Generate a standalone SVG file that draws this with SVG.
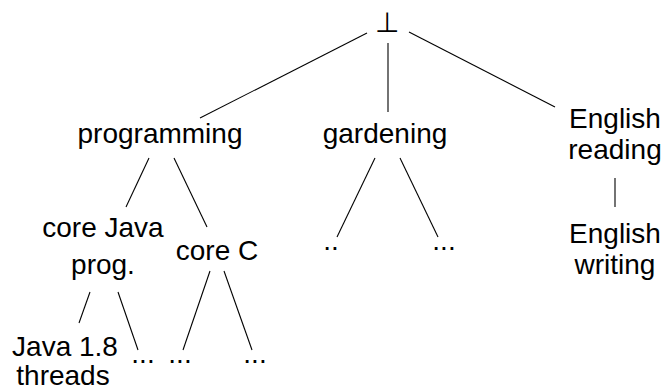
<svg xmlns="http://www.w3.org/2000/svg" width="664" height="392" viewBox="0 0 664 392">
<style>
text{font-family:"Liberation Sans",Arial,sans-serif;font-size:28px;fill:#000;text-anchor:middle}
.bot{font-family:"DejaVu Sans",sans-serif;font-weight:200;font-size:28px}
.e line{stroke:#000;stroke-width:1.1}
</style>
<rect width="664" height="392" fill="#fff"/>
<g class="e" id="connectors">
<line x1="367" y1="33" x2="200" y2="118"/>
<line x1="388" y1="43" x2="388" y2="112"/>
<line x1="409" y1="32" x2="555" y2="107"/>
<line x1="149" y1="158" x2="126" y2="207"/>
<line x1="174" y1="158" x2="207" y2="227"/>
<line x1="375" y1="158" x2="337" y2="237"/>
<line x1="400" y1="158" x2="438" y2="237"/>
<line x1="615" y1="178" x2="615" y2="207"/>
<line x1="90" y1="292" x2="79" y2="323"/>
<line x1="118" y1="292" x2="138" y2="350"/>
<line x1="210" y1="271" x2="183" y2="350"/>
<line x1="224" y1="271" x2="252" y2="350"/>
</g>
<g id="root"><text class="bot" x="387" y="32">⊥</text></g>
<g id="programming"><text x="160" y="143">programming</text></g>
<g id="gardening"><text x="385" y="143">gardening</text></g>
<g id="english-reading"><text x="615" y="128">English</text><text x="615" y="159">reading</text></g>
<g id="core-java"><text x="103" y="237">core Java</text><text x="103" y="274">prog.</text></g>
<g id="core-c"><text x="217" y="260">core C</text></g>
<g id="g-dots1"><text x="331" y="250">..</text></g>
<g id="g-dots2"><text x="444" y="250">...</text></g>
<g id="english-writing"><text x="615" y="243">English</text><text x="615" y="274">writing</text></g>
<g id="java18"><text x="65" y="356">Java 1.8</text><text x="63" y="385">threads</text></g>
<g id="j-dots"><text x="143" y="363">...</text></g>
<g id="c-dots1"><text x="180" y="363">...</text></g>
<g id="c-dots2"><text x="255" y="363">...</text></g>
</svg>
